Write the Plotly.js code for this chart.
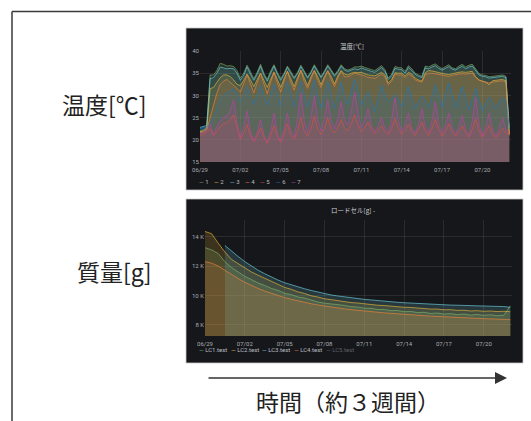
<!DOCTYPE html>
<html><head><meta charset="utf-8">
<script src="https://cdn.plot.ly/plotly-3.0.1.min.js"></script>
<style>html,body{margin:0;padding:0;background:#fff;}#chart{width:531px;height:421px;}</style>
</head><body><div id="chart"></div>
<script>
// ---------------- data ----------------
const tempNames = ['1','2','3','4','5','6','7'];
const tempColors = ['#7EB26D','#EAB839','#6ED0E0','#EF843C','#E24D42','#1F78C1','#BA43A9'];
const tempStart = '2019-06-29 00:00';
const tempStepHours = 6;
// samples every 6 h (00,06,12,18) from 06/29 00:00, last point 07/22 00:00
const temp1 = [22.0,22.3,22.8,34.6, 34.6,35.6,37.2,37.0, 36.6,36.7,36.5,35.6, 33.9,35.0,36.8,35.2,
  33.8,35.2,37.0,35.0, 33.6,35.5,36.9,35.2, 33.8,35.0,36.6,35.4, 34.1,35.2,36.8,35.5,
  34.2,35.4,36.9,35.6, 34.2,35.5,36.9,35.8, 34.6,35.6,36.9,36.0, 35.7,36.0,36.4,36.4,
  36.6,36.3,36.0,35.8, 35.6,36.2,36.7,35.8, 33.9,34.8,36.5,36.3, 36.2,35.4,36.7,36.0,
  35.0,34.6,34.3,36.6, 36.4,36.8,37.1,36.5, 36.0,36.5,36.9,36.2, 36.0,36.6,37.0,36.4,
  36.8,37.0,35.9,34.9, 34.6,34.5,34.2,34.3, 34.4,34.5,34.6,34.3, 21.2];
const temp2 = [21.8,22.0,22.5,31.5, 31.8,33.0,34.0,34.6, 34.6,34.2,33.5,32.5, 32.2,33.4,34.8,33.5,
  32.0,33.5,35.0,33.4, 31.8,33.6,35.2,33.6, 31.8,33.8,35.4,33.8, 32.0,34.0,35.6,34.0,
  32.2,34.2,35.6,34.2, 32.4,34.2,35.5,34.3, 32.6,34.4,35.6,34.8, 34.6,35.0,35.2,35.1,
  35.2,34.9,34.6,34.5, 34.4,34.8,35.2,34.6, 32.8,33.6,35.1,35.0, 35.0,34.4,35.2,34.8,
  33.9,33.5,33.2,35.1, 35.6,35.5,35.3,35.2, 35.0,34.8,34.7,34.9, 35.1,35.2,35.3,35.2,
  35.3,35.4,34.2,33.5, 33.2,33.0,32.4,33.3, 33.4,33.5,33.6,33.3, 21.5];
const temp3 = [22.8,23.0,23.2,33.8, 34.0,35.0,36.4,36.2, 36.0,36.1,36.0,35.0, 33.4,34.5,36.4,34.8,
  33.4,34.8,36.6,34.6, 33.2,35.0,36.6,34.8, 33.4,34.7,36.3,35.0, 33.8,34.9,36.5,35.2,
  33.9,35.1,36.6,35.3, 34.0,35.2,36.6,35.5, 34.3,35.3,36.6,35.7, 35.4,35.7,36.0,35.8,
  36.2,35.9,35.6,35.4, 35.2,35.8,36.3,35.4, 33.6,34.4,36.1,35.9, 35.8,35.0,36.3,35.6,
  34.7,34.3,34.0,36.2, 36.0,36.4,36.7,36.1, 35.7,36.1,36.5,35.9, 35.7,36.2,36.6,36.0,
  36.4,36.6,35.5,34.6, 34.3,34.2,33.9,34.0, 34.1,34.2,34.3,34.0, 22.6];
const temp4 = [21.6,21.8,22.2,25.0, 28.0,30.5,32.5,33.2, 33.6,33.0,32.4,31.6, 30.8,32.6,34.6,32.6,
  30.6,32.8,35.0,32.6, 30.4,33.0,35.2,32.8, 30.8,33.2,35.5,33.0, 31.2,33.4,35.7,33.2,
  31.6,33.6,35.6,33.4, 31.8,33.8,35.6,33.6, 32.0,34.0,35.5,34.2, 34.2,34.6,35.0,34.8,
  34.6,34.4,34.0,34.0, 33.8,34.3,34.8,34.2, 32.4,33.2,34.8,34.6, 34.6,34.0,34.8,34.4,
  33.5,33.2,33.0,34.6, 35.0,35.0,34.9,34.8, 34.6,34.4,34.3,34.5, 34.7,34.8,34.9,34.8,
  34.9,35.0,34.0,33.4, 33.2,33.0,32.8,33.0, 33.1,33.2,33.3,33.0, 21.0];
const temp5 = [21.0,21.2,21.8,22.5, 21.0,22.0,23.0,23.6, 23.8,24.6,25.6,23.0, 20.2,21.6,23.4,21.0,
  19.6,21.0,22.6,20.6, 19.2,21.0,23.2,20.8, 19.4,21.2,23.6,21.0, 20.2,22.0,25.0,22.0,
  20.8,22.4,25.4,22.4, 21.2,22.6,25.0,22.4, 21.6,22.8,24.6,22.6, 22.0,23.6,25.6,23.4,
  21.8,22.8,24.0,22.4, 21.4,22.2,23.2,21.8, 21.2,22.6,24.8,22.6, 21.2,22.2,23.6,21.8,
  21.0,22.4,24.0,22.0, 21.0,22.6,24.6,22.4, 20.8,22.0,23.6,21.8, 20.8,21.8,23.2,21.6,
  20.6,22.4,24.8,22.2, 20.6,21.8,23.2,21.4, 20.4,21.4,22.6,21.4, 21.6];
const temp6 = [22.5,22.7,23.0,23.6, 25.0,27.0,29.0,30.0, 30.5,31.0,31.5,30.5, 28.5,30.0,32.0,30.0,
  28.0,30.0,32.2,30.0, 27.8,30.2,32.6,30.2, 27.6,30.4,33.0,30.4, 27.5,30.5,33.2,30.2,
  27.4,30.6,33.4,30.0, 27.2,30.4,33.2,30.0, 27.0,30.2,33.0,29.8, 28.0,31.0,33.6,31.0,
  27.8,29.6,30.8,28.6, 26.4,29.5,32.3,30.0, 28.6,29.4,30.2,29.0, 27.4,29.8,32.0,29.6,
  27.0,28.6,29.8,28.8, 27.2,30.0,32.4,30.0, 27.4,30.2,32.8,30.2, 27.2,29.8,32.0,29.6,
  26.8,29.4,31.6,29.0, 26.6,28.2,29.6,28.4, 27.0,28.6,29.4,28.8, 22.4];
const temp7 = [21.4,21.6,22.4,23.5, 21.2,23.0,24.2,25.0, 25.4,26.5,29.0,24.0, 20.6,23.0,26.5,22.0,
  19.8,21.6,24.5,21.2, 19.4,22.0,26.0,21.6, 19.6,22.4,26.0,22.0, 20.6,24.5,30.5,24.4,
  21.6,25.0,30.0,24.6, 22.0,24.8,29.0,24.2, 22.4,24.8,28.5,24.4, 23.2,26.5,30.8,26.0,
  22.6,24.4,27.0,23.2, 21.8,23.2,25.0,22.6, 21.6,24.4,29.5,24.2, 21.8,23.4,26.0,22.6,
  21.4,23.6,27.0,23.0, 21.6,24.2,28.5,23.8, 21.4,23.2,26.0,22.8, 21.2,23.0,25.5,22.4,
  21.0,24.4,29.5,23.6, 21.0,23.0,26.0,22.2, 20.8,22.6,25.0,22.2, 22.0];
const tempValues = [temp1,temp2,temp3,temp4,temp5,temp6,temp7];

const loadNames = ['LC1.test','LC2.test','LC3.test','LC4.test','LC5.test'];
const loadColors = ['#7EB26D','#EAB839','#6ED0E0','#EF843C','#E24D42'];
const loadStepHours = 12;
// grams, samples every 12 h from 06/29 00:00 to 07/22 00:00
const lc1 = [13250,13100,12850,12300,11900,11600,11300,11080,10850,10680,10480,10350,10150,10060,9900,9830,
  9680,9560,9480,9440,9360,9330,9240,9220,9140,9130,9050,9050,8970,8980,8900,8920,
  8840,8860,8780,8810,8740,8770,8700,8740,8670,8710,8650,8690,8630,8660,9300];
const lc2 = [14350,14200,13550,12950,12450,12150,11850,11600,11380,11180,10980,10800,10550,10420,10250,10140,
  9980,9900,9780,9720,9640,9600,9520,9490,9430,9400,9340,9320,9270,9250,9200,9190,
  9140,9130,9080,9080,9030,9040,8990,9000,8950,8970,8930,8950,8910,8930,8900];
const lc3 = [null,null,null,13400,13000,12650,12300,12000,11720,11480,11250,11050,10870,10720,10580,10460,
  10340,10230,10130,10040,9970,9900,9840,9790,9740,9700,9650,9610,9570,9540,9510,9480,
  9450,9430,9410,9390,9370,9350,9340,9320,9310,9290,9280,9270,9260,9250,9200];
const lc4 = [12300,12200,12000,11700,11400,11150,10900,10680,10480,10300,10140,9990,9860,9740,9630,9530,
  9440,9360,9280,9210,9150,9090,9040,8990,8940,8900,8860,8820,8790,8750,8720,8690,
  8660,8630,8600,8580,8550,8530,8510,8490,8470,8450,8430,8410,8400,8380,8360];
const loadValues = [lc1,lc2,lc3,lc4];        // LC5.test is hidden in the legend
const loadTickVals = [8000,10000,12000,14000];
const loadTickText = ['8 K','10 K','12 K','14 K'];

// ---------------- helpers ----------------
const W = 531, H = 421;
const px = x => x / W, py = y => 1 - y / H;
function timeGrid(start, stepH, n) {
  const t0 = Date.parse(start.replace(' ', 'T') + ':00Z');
  return Array.from({length: n}, (_, i) => new Date(t0 + i * stepH * 3600000).toISOString().slice(0, 16).replace('T', ' '));
}
function rgba(hex, a) {
  const n = parseInt(hex.slice(1), 16);
  return `rgba(${(n >> 16) & 255},${(n >> 8) & 255},${n & 255},${a})`;
}
const tT = timeGrid(tempStart, tempStepHours, temp1.length);
const tL = timeGrid(tempStart, loadStepHours, lc1.length);

const traces = [];
tempValues.forEach((v, i) => traces.push({x: tT, y: v, type: 'scatter', mode: 'lines', xaxis: 'x', yaxis: 'y',
  line: {width: 0, color: tempColors[i]}, fill: 'tozeroy', fillcolor: rgba(tempColors[i], 0.17), showlegend: false, hoverinfo: 'skip'}));
tempValues.forEach((v, i) => traces.push({x: tT, y: v, type: 'scatter', mode: 'lines', xaxis: 'x', yaxis: 'y', name: tempNames[i],
  line: {width: 0.9, color: rgba(tempColors[i], 0.72)}, showlegend: false}));
loadValues.forEach((v, i) => traces.push({x: tL, y: v, type: 'scatter', mode: 'lines', xaxis: 'x2', yaxis: 'y2',
  line: {width: 0, color: loadColors[i]}, fill: 'tozeroy', fillcolor: rgba(loadColors[i], 0.18), showlegend: false, hoverinfo: 'skip'}));
loadValues.forEach((v, i) => traces.push({x: tL, y: v, type: 'scatter', mode: 'lines', xaxis: 'x2', yaxis: 'y2', name: loadNames[i],
  line: {width: 0.9, color: rgba(loadColors[i], 0.72)}, showlegend: false}));

const tickFont = {family: 'Roboto, Noto Sans CJK JP, sans-serif', size: 6, color: '#a9adb2'};
const grid = 'rgba(255,255,255,0.09)';
const xCommon = {type: 'date', range: ['2019-06-29 00:00', '2019-07-22 03:00'], tickformat: '%m/%d', dtick: 3 * 86400000,
  tick0: '2019-06-29', showgrid: true, gridcolor: grid, gridwidth: 1, zeroline: false, showline: false, ticks: '', tickfont: tickFont,
  ticklabelstandoff: 3, fixedrange: true};
const yCommon = {showgrid: true, gridcolor: grid, gridwidth: 1, zeroline: false, showline: false, ticks: '', tickfont: tickFont, fixedrange: true};

const layout = {
  width: W, height: H, margin: {l: 0, r: 0, t: 0, b: 0},
  paper_bgcolor: '#ffffff', plot_bgcolor: 'rgba(0,0,0,0)', showlegend: false,
  font: {family: 'Noto Sans CJK JP, sans-serif'},
  xaxis: Object.assign({}, xCommon, {domain: [px(200), px(511)], anchor: 'y'}),
  yaxis: Object.assign({}, yCommon, {domain: [py(162), py(51)], anchor: 'x', range: [15, 40], dtick: 5, tick0: 15}),
  xaxis2: Object.assign({}, xCommon, {domain: [px(205), px(512)], anchor: 'y2'}),
  yaxis2: Object.assign({}, yCommon, {domain: [py(336), py(220)], anchor: 'x2', range: [7250, 15130], tickvals: loadTickVals, ticktext: loadTickText}),
  shapes: [
    {type: 'line', xref: 'paper', yref: 'paper', x0: px(12), x1: px(531), y0: py(11.5), y1: py(11.5), line: {color: '#3a3a3a', width: 1.5}},
    {type: 'line', xref: 'paper', yref: 'paper', x0: px(12), x1: px(12), y0: py(11.5), y1: py(421), line: {color: '#3a3a3a', width: 1.5}},
    {type: 'rect', layer: 'below', xref: 'paper', yref: 'paper', x0: px(186), x1: px(523), y0: py(190), y1: py(28), fillcolor: '#16171a', line: {color: '#c9c9c9', width: 0.8}},
    {type: 'rect', layer: 'below', xref: 'paper', yref: 'paper', x0: px(186), x1: px(523), y0: py(363), y1: py(199), fillcolor: '#16171a', line: {color: '#c9c9c9', width: 0.8}}
  ],
  annotations: []
};
const A = layout.annotations;
const bigFont = {family: 'Noto Sans CJK JP, sans-serif', size: 23, color: '#222222'};
A.push({xref: 'paper', yref: 'paper', x: px(104), y: py(104), text: '温度[℃]', showarrow: false, font: bigFont, xanchor: 'center', yanchor: 'middle'});
A.push({xref: 'paper', yref: 'paper', x: px(114), y: py(271), text: '質量[g]', showarrow: false, font: bigFont, xanchor: 'center', yanchor: 'middle'});
A.push({xref: 'paper', yref: 'paper', x: px(348), y: py(401), text: '時間（約３週間）', showarrow: false, font: bigFont, xanchor: 'center', yanchor: 'middle'});
A.push({xref: 'paper', yref: 'paper', x: px(507), y: py(378), ax: -300, ay: 0, axref: 'pixel', ayref: 'pixel', text: '', showarrow: true,
  arrowhead: 2, arrowsize: 1.6, arrowwidth: 1.5, arrowcolor: '#333333'});
const titleFont = {family: 'Noto Sans CJK JP, sans-serif', size: 6.5, color: '#c8ccd0'};
A.push({xref: 'paper', yref: 'paper', x: px(352), y: py(39), text: '温度[℃]', showarrow: false, font: titleFont});
A.push({xref: 'paper', yref: 'paper', x: px(353), y: py(210), text: 'ロードセル[g] -', showarrow: false, font: titleFont});
const legFont = {family: 'Roboto, sans-serif', size: 6, color: '#b8bcc0'};
tempNames.forEach((n, i) => A.push({xref: 'paper', yref: 'paper', x: px(197 + i * 15.3), y: py(181), xanchor: 'left', showarrow: false, font: legFont,
  text: `<span style="color:${tempColors[i]}">—</span> ${n}`}));
loadNames.forEach((n, i) => {
  const hidden = i === 4;
  A.push({xref: 'paper', yref: 'paper', x: px(197 + i * 31.7), y: py(355), xanchor: 'left', showarrow: false,
    font: Object.assign({}, legFont, hidden ? {color: '#5d6166'} : {}),
    text: hidden ? `— ${n}` : `<span style="color:${loadColors[i]}">—</span> ${n}`});
});
Plotly.newPlot('chart', traces, layout, {displayModeBar: false, staticPlot: true});
</script></body></html>
